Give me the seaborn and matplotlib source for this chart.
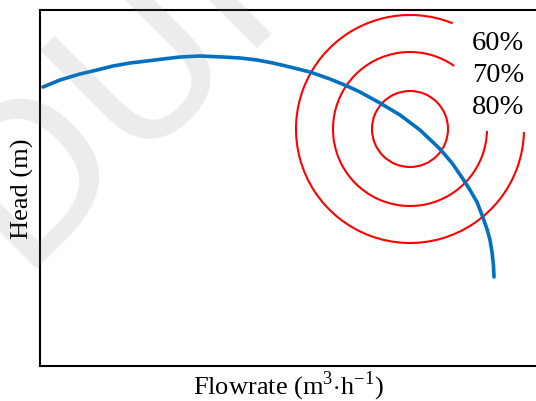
import numpy as np
import pandas as pd
import seaborn as sns
import matplotlib
matplotlib.use("Agg")
import matplotlib.pyplot as plt
from matplotlib.patches import Arc

# pump head curve (arbitrary units)
flowrate = [3, 20, 40, 57, 73, 90, 107, 123, 140, 160, 183, 200, 217, 233, 250,
            270, 290, 307, 320, 340, 360, 380, 400, 412, 423, 430, 437, 442,
            447, 450, 452, 453.5, 454]
head = [279, 286, 292, 296, 300, 303, 305, 307, 309, 310, 309, 308, 306, 303, 299,
        294, 287, 280, 274, 263, 251, 236, 217, 203, 187, 176, 164, 151,
        137, 126, 114, 100, 89]

# efficiency contours: centre, radii, arc angles (deg) and labels
eff_centre = (370, 237)
eff_radii = [38, 77, 114]
eff_start = [0, 55, 68]
eff_end = [360, 358.5, 358.5]
eff_labels = ["60%", "70%", "80%"]
label_y = [324, 292, 260]
label_x = 458

sns.set_theme(style="white")
plt.rcParams["font.family"] = ["Liberation Serif", "DejaVu Serif"]
plt.rcParams["mathtext.fontset"] = "custom"
plt.rcParams["mathtext.rm"] = "Liberation Serif"

fig = plt.figure(figsize=(5.36, 4.02), dpi=100)
ax = fig.add_axes([40 / 536, 35 / 402, 496 / 536, 356 / 402])

df = pd.DataFrame({"Q": flowrate, "H": head})
sns.lineplot(data=df, x="Q", y="H", sort=False, color="#0070c0",
             linewidth=2.6, solid_joinstyle="round", ax=ax)

for r, t1, t2 in zip(eff_radii, eff_start, eff_end):
    ax.add_patch(Arc(eff_centre, 2 * r, 2 * r, theta1=t1, theta2=t2,
                     color="#ff0000", linewidth=1.5))

for lab, y in zip(eff_labels, label_y):
    ax.text(label_x, y, lab, ha="center", va="center", fontsize=20.5, color="black")

ax.set_xlim(0, 496)
ax.set_ylim(0, 356)
ax.set_xticks([])
ax.set_yticks([])
ax.set_xlabel(r"Flowrate (m$^{3}$$\cdot$h$^{-1}$)", fontsize=19, labelpad=2, color="black")
ax.set_ylabel("Head (m)", fontsize=19, labelpad=4, color="black")
for side in ["left", "bottom", "top"]:
    ax.spines[side].set_color("black")
    ax.spines[side].set_linewidth(1.5)
ax.spines["right"].set_visible(False)

# faint watermark (cut by the figure edge, as in the original)
fig.text(108 / 536, 1 - 96 / 402, "DUI", rotation=45, fontsize=150,
         family="DejaVu Sans", color=(0.5, 0.5, 0.5), alpha=0.15,
         ha="center", va="center", zorder=10)

fig.savefig("out.png", dpi=100)
